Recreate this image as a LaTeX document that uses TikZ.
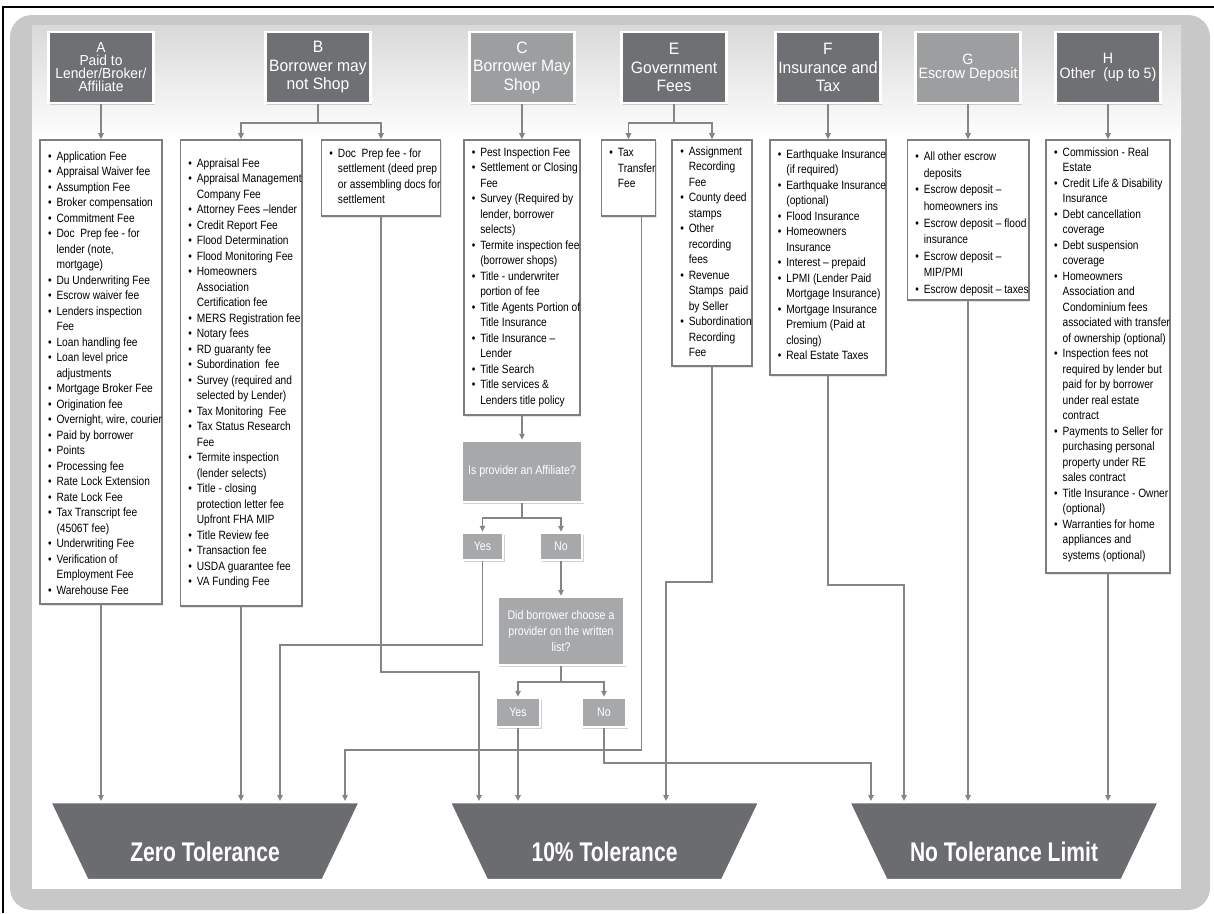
\documentclass[tikz,border=0pt]{standalone}
\usepackage{fontspec}
\setmainfont{Liberation Sans}
\newfontfamily\listfont[FakeStretch=0.85]{Liberation Sans}
\newfontfamily\headfont[FakeStretch=0.95]{Liberation Sans}
\newfontfamily\tolfont[FakeStretch=0.78]{Liberation Sans}
\usetikzlibrary{shapes.geometric, arrows.meta, shadows}

\definecolor{hdark}{HTML}{6F7073}
\definecolor{hlight}{HTML}{9D9EA0}
\definecolor{askfill}{HTML}{A7A8AA}
\definecolor{tolfill}{HTML}{6B6C6F}
\definecolor{wiregray}{HTML}{858585}
\definecolor{rim}{HTML}{7E7E7E}
\definecolor{panel}{HTML}{C8C8C8}

% one fee line, with bullet or as a wrapped line
\newcommand{\fee}[1]{\hbox{\hskip8pt\hbox to 8.5pt{\textbullet\hfil}#1}}
\newcommand{\feecont}[1]{\hbox{\hskip16.5pt #1}}
% width, height, top gap, lines
\newcommand{\feelist}[4]{\parbox[c][#2pt][t]{#1pt}{\vskip#3pt #4}}

\begin{document}
\begin{tikzpicture}[x=1pt, y=-1pt,
    every node/.style={align=center},
    headbox/.style={draw=white, line width=2.5pt, fill=hdark, text=white, minimum width=105pt, minimum height=71pt, inner sep=1pt,
        font=\headfont\fontsize{16.5pt}{18.5pt}\selectfont, drop shadow={shadow xshift=1.5pt, shadow yshift=-2pt, opacity=0.35}},
    softhead/.style={headbox, fill=hlight},
    feebox/.style={draw=rim, line width=1.6pt, fill=white, inner sep=0pt,
        font=\listfont\fontsize{12pt}{15.5pt}\selectfont, drop shadow={shadow xshift=1pt, shadow yshift=-1.5pt, opacity=0.2}},
    askbox/.style={draw=white, line width=2.5pt, fill=askfill, text=white, inner sep=1pt,
        font=\listfont\fontsize{12.5pt}{15.6pt}\selectfont, drop shadow={shadow xshift=1.5pt, shadow yshift=-2pt, opacity=0.35}},
    tolbox/.style={trapezium, trapezium angle=81, trapezium stretches=true, shape border rotate=180,
        draw=white, line width=2.5pt, fill=tolfill, minimum width=310pt, minimum height=78pt},
    tollabel/.style={text=white, inner sep=0pt, font=\tolfont\bfseries\fontsize{27pt}{30pt}\selectfont},
    link/.style={draw=wiregray, line width=1.8pt},
    flow/.style={link, -{Triangle[length=6pt, width=5.5pt]}}
]
    % Frame and panel
    \useasboundingbox (0,0) rectangle (1214,913);
    \draw[line width=1.2pt] (3,913) -- (3,7) -- (1214,7);
    \fill[panel, rounded corners=22pt] (10,15) rectangle (1210,910);
    \fill[white] (32,25) rectangle (1181,889);
    \shade[top color=gray!30, bottom color=white] (32,25) rectangle (1181,140);

    % Header boxes - one per fee section
    \node[headbox, font=\headfont\fontsize{14.5pt}{13pt}\selectfont] (ahead) at (101,67.5) {A\\Paid to\\Lender/Broker/\\Affiliate};
    \node[headbox] (bhead) at (318,67.5) {B\\Borrower may\\not Shop};
    \node[softhead] (chead) at (522,67.5) {C\\Borrower May\\Shop};
    \node[headbox] (ehead) at (674,67.5) {E\\Government\\Fees};
    \node[headbox] (fhead) at (828,67.5) {F\\Insurance and\\Tax};
    \node[softhead, font=\headfont\fontsize{15pt}{14pt}\selectfont] (ghead) at (968,67.5) {G\\Escrow Deposit};
    \node[headbox, font=\headfont\fontsize{15pt}{14.5pt}\selectfont] (hhead) at (1108,67.5) {H\\Other\ \ (up to 5)};

    % Fee lists - under their headers
    \node[feebox] (alist) at (101,372) {\feelist{130}{464}{11.5}{
        \fee{Application Fee}
        \fee{Appraisal Waiver fee}
        \fee{Assumption Fee}
        \fee{Broker compensation}
        \fee{Commitment Fee}
        \fee{Doc\ \ Prep fee - for}
        \feecont{lender (note,}
        \feecont{mortgage)}
        \fee{Du Underwriting Fee}
        \fee{Escrow waiver fee}
        \fee{Lenders inspection}
        \feecont{Fee}
        \fee{Loan handling fee}
        \fee{Loan level price}
        \feecont{adjustments}
        \fee{Mortgage Broker Fee}
        \fee{Origination fee}
        \fee{Overnight, wire, courier}
        \fee{Paid by borrower}
        \fee{Points}
        \fee{Processing fee}
        \fee{Rate Lock Extension}
        \fee{Rate Lock Fee}
        \fee{Tax Transcript fee}
        \feecont{(4506T fee)}
        \fee{Underwriting Fee}
        \fee{Verification of}
        \feecont{Employment Fee}
        \fee{Warehouse Fee}}};
    \node[feebox] (blist) at (241,373) {\feelist{130}{466}{18.5}{
        \fee{Appraisal Fee}
        \fee{Appraisal Management}
        \feecont{Company Fee}
        \fee{Attorney Fees \textendash lender}
        \fee{Credit Report Fee}
        \fee{Flood Determination}
        \fee{Flood Monitoring Fee}
        \fee{Homeowners}
        \feecont{Association}
        \feecont{Certification fee}
        \fee{MERS Registration fee}
        \fee{Notary fees}
        \fee{RD guaranty fee}
        \fee{Subordination\ \ fee}
        \fee{Survey (required and}
        \feecont{selected by Lender)}
        \fee{Tax Monitoring\ \ Fee}
        \fee{Tax Status Research}
        \feecont{Fee}
        \fee{Termite inspection}
        \feecont{(lender selects)}
        \fee{Title - closing}
        \feecont{protection letter fee}
        \feecont{Upfront FHA MIP}
        \fee{Title Review fee}
        \fee{Transaction fee}
        \fee{USDA guarantee fee}
        \fee{VA Funding Fee}}};
    \node[feebox] (bdoc) at (381,178) {\feelist{130}{76}{8.5}{
        \fee{Doc\ \ Prep fee - for}
        \feecont{settlement (deed prep}
        \feecont{or assembling docs for}
        \feecont{settlement}}};
    \node[feebox] (clist) at (522,277.5) {\feelist{130}{275}{7.5}{
        \fee{Pest Inspection Fee}
        \fee{Settlement or Closing}
        \feecont{Fee}
        \fee{Survey (Required by}
        \feecont{lender, borrower}
        \feecont{selects)}
        \fee{Termite inspection fee}
        \feecont{(borrower shops)}
        \fee{Title - underwriter}
        \feecont{portion of fee}
        \fee{Title Agents Portion of}
        \feecont{Title Insurance}
        \fee{Title Insurance \textendash}
        \feecont{Lender}
        \fee{Title Search}
        \fee{Title services \&}
        \feecont{Lenders title policy}}};
    \node[feebox] (etax) at (628.5,178) {\feelist{65}{76}{8.5}{
        \fee{Tax}
        \feecont{Transfer}
        \feecont{Fee}}};
    \node[feebox] (erec) at (712,253) {\feelist{86}{226}{6.5}{
        \fee{Assignment}
        \feecont{Recording}
        \feecont{Fee}
        \fee{County deed}
        \feecont{stamps}
        \fee{Other}
        \feecont{recording}
        \feecont{fees}
        \fee{Revenue}
        \feecont{Stamps\ \ paid}
        \feecont{by Seller}
        \fee{Subordination}
        \feecont{Recording}
        \feecont{Fee}}};
    \node[feebox] (flist) at (828,257.5) {\feelist{130}{235}{9.5}{
        \fee{Earthquake Insurance}
        \feecont{(if required)}
        \fee{Earthquake Insurance}
        \feecont{(optional)}
        \fee{Flood Insurance}
        \fee{Homeowners}
        \feecont{Insurance}
        \fee{Interest \textendash\ prepaid}
        \fee{LPMI (Lender Paid}
        \feecont{Mortgage Insurance)}
        \fee{Mortgage Insurance}
        \feecont{Premium (Paid at}
        \feecont{closing)}
        \fee{Real Estate Taxes}}};
    \node[feebox, font=\listfont\fontsize{12pt}{16.6pt}\selectfont] (glist) at (968,220) {\feelist{130}{160}{12}{
        \fee{All other escrow}
        \feecont{deposits}
        \fee{Escrow deposit \textendash}
        \feecont{homeowners ins}
        \fee{Escrow deposit \textendash\ flood}
        \feecont{insurance}
        \fee{Escrow deposit \textendash}
        \feecont{MIP/PMI}
        \fee{Escrow deposit \textendash\ taxes}}};
    \node[feebox] (hlist) at (1108,356.5) {\feelist{130}{433}{7.5}{
        \fee{Commission - Real}
        \feecont{Estate}
        \fee{Credit Life \& Disability}
        \feecont{Insurance}
        \fee{Debt cancellation}
        \feecont{coverage}
        \fee{Debt suspension}
        \feecont{coverage}
        \fee{Homeowners}
        \feecont{Association and}
        \feecont{Condominium fees}
        \feecont{associated with transfer}
        \feecont{of ownership (optional)}
        \fee{Inspection fees not}
        \feecont{required by lender but}
        \feecont{paid for by borrower}
        \feecont{under real estate}
        \feecont{contract}
        \fee{Payments to Seller for}
        \feecont{purchasing personal}
        \feecont{property under RE}
        \feecont{sales contract}
        \fee{Title Insurance - Owner}
        \feecont{(optional)}
        \fee{Warranties for home}
        \feecont{appliances and}
        \feecont{systems (optional)}}};

    % Questions for section C
    \node[askbox, minimum width=121pt, minimum height=61pt] (askaff) at (522,471.5) {Is provider an Affiliate?};
    \node[askbox, minimum width=41pt, minimum height=27pt] (yesa) at (482.5,546.5) {Yes};
    \node[askbox, minimum width=42pt, minimum height=27pt] (noa) at (561,546.5) {No};
    \node[askbox, minimum width=127pt, minimum height=68pt] (asklist) at (561,631) {Did borrower choose a\\provider on the written\\list?};
    \node[askbox, minimum width=44pt, minimum height=29pt] (yesb) at (518,712.5) {Yes};
    \node[askbox, minimum width=45pt, minimum height=29pt] (nob) at (604,712.5) {No};

    % Tolerance buckets
    \node[tolbox] (zero) at (205,841) {};
    \node[tollabel] (zerotext) at (205,852) {Zero Tolerance};
    \node[tolbox] (ten) at (604.5,841) {};
    \node[tollabel] (tentext) at (604.5,852) {10\% Tolerance};
    \node[tolbox] (notol) at (1004,841) {};
    \node[tollabel] (notoltext) at (1004,852) {No Tolerance Limit};
    \coordinate (zerotop) at (205,801);
    \coordinate (tentop) at (604.5,801);
    \coordinate (notoltop) at (1004,801);

    % Edges - headers to fee lists
    \draw[flow] (ahead) -- (alist);
    \coordinate (bsplit) at (318,123);
    \draw[link] (bhead) -- (bsplit);
    \draw[flow] (bsplit) -| (blist);
    \draw[flow] (bsplit) -| (bdoc);
    \draw[flow] (chead) -- (clist);
    \coordinate (esplit) at (674,123);
    \draw[link] (ehead) -- (esplit);
    \draw[flow] (esplit) -| (etax);
    \draw[flow] (esplit) -| (erec);
    \draw[flow] (fhead) -- (flist);
    \draw[flow] (ghead) -- (glist);
    \draw[flow] (hhead) -- (hlist);

    % Edges - through the questions
    \draw[flow] (clist) -- (askaff);
    \coordinate (affsplit) at (522,518);
    \draw[link] (askaff) -- (affsplit);
    \draw[flow] (affsplit) -| (yesa);
    \draw[flow] (affsplit) -| (noa);
    \draw[flow] (noa) -- (asklist);
    \coordinate (listsplit) at (561,682);
    \draw[link] (asklist) -- (listsplit);
    \draw[flow] (listsplit) -| (yesb);
    \draw[flow] (listsplit) -| (nob);

    % Edges - into zero tolerance
    \draw[flow] (alist) -- (alist |- zerotop);
    \draw[flow] (blist) -- (blist |- zerotop);
    \coordinate (yesabend) at (280,645);
    \draw[flow] (yesa) |- (yesabend) -- (yesabend |- zerotop);
    \coordinate (taxbend) at (345,750);
    \draw[flow] ([xshift=13pt]etax.south) |- (taxbend) -- (taxbend |- zerotop);

    % Edges - into 10% tolerance
    \coordinate (docbend) at (479,672);
    \draw[flow] (bdoc) |- (docbend) -- (docbend |- tentop);
    \draw[flow] (yesb) -- (yesb |- tentop);
    \coordinate (recbend) at (666,582);
    \draw[flow] (erec) |- (recbend) -- (recbend |- tentop);

    % Edges - into no tolerance limit
    \coordinate (nobbend) at (871,763);
    \draw[flow] (nob) |- (nobbend) -- (nobbend |- notoltop);
    \coordinate (flistbend) at (904,585);
    \draw[flow] (flist) |- (flistbend) -- (flistbend |- notoltop);
    \draw[flow] (glist) -- (glist |- notoltop);
    \draw[flow] (hlist) -- (hlist |- notoltop);
\end{tikzpicture}
\end{document}
